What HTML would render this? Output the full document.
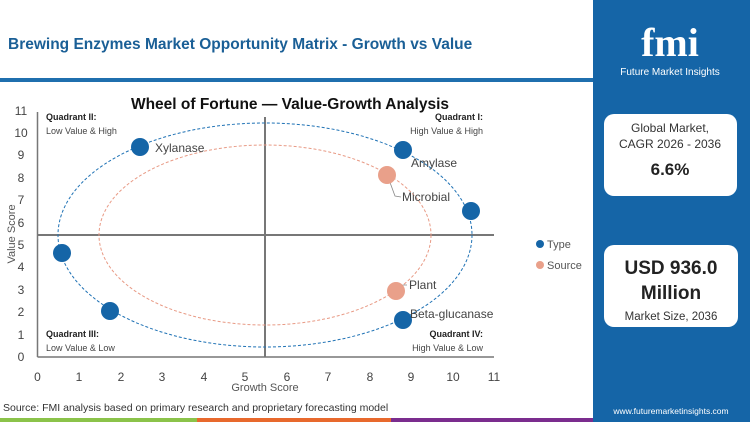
<!DOCTYPE html>
<html><head><meta charset="utf-8"><style>
body{margin:0;width:750px;height:422px;overflow:hidden;background:#fff;font-family:"Liberation Sans",sans-serif}
</style></head><body>
<svg width="750" height="422" viewBox="0 0 750 422" xmlns="http://www.w3.org/2000/svg" font-family="Liberation Sans, sans-serif">
<rect width="750" height="422" fill="#fff"/>
<text x="8" y="49" font-size="15.5" font-weight="bold" fill="#1a5f96">Brewing Enzymes Market Opportunity Matrix - Growth vs Value</text>
<rect x="0" y="78" width="593" height="4" fill="#1f6fae"/>
<rect x="593" y="0" width="157" height="422" fill="#1565a7"/>
<text x="670" y="56" font-size="40" font-weight="bold" fill="#fff" text-anchor="middle" font-family="Liberation Serif, serif">fmi</text>
<text x="670" y="75" font-size="10" fill="#fff" text-anchor="middle">Future Market Insights</text>
<rect x="604" y="114" width="133" height="82" rx="10" fill="#fff"/>
<text x="670" y="132" font-size="12" fill="#333" text-anchor="middle">Global Market,</text>
<text x="670" y="148" font-size="12" fill="#333" text-anchor="middle">CAGR 2026 - 2036</text>
<text x="670" y="175" font-size="17" font-weight="bold" fill="#222" text-anchor="middle">6.6%</text>
<rect x="604" y="245" width="134" height="82" rx="10" fill="#fff"/>
<text x="671" y="274" font-size="19" font-weight="bold" fill="#222" text-anchor="middle">USD 936.0</text>
<text x="671" y="299" font-size="19" font-weight="bold" fill="#222" text-anchor="middle">Million</text>
<text x="671" y="320" font-size="11.5" fill="#333" text-anchor="middle">Market Size, 2036</text>
<text x="671" y="414" font-size="8.5" fill="#fff" text-anchor="middle">www.futuremarketinsights.com</text>
<rect x="0" y="418" width="197" height="4" fill="#8bc34a"/>
<rect x="197" y="418" width="194" height="4" fill="#e8692d"/>
<rect x="391" y="418" width="202" height="4" fill="#7b2d8e"/>
<text x="3" y="411" font-size="10.5" fill="#333">Source: FMI analysis based on primary research and proprietary forecasting model</text>
<text x="290" y="109" font-size="15.5" font-weight="bold" fill="#111" text-anchor="middle">Wheel of Fortune — Value-Growth  Analysis</text>
<line x1="37.5" y1="112" x2="37.5" y2="357" stroke="#777" stroke-width="1.5"/>
<line x1="37.5" y1="357" x2="494" y2="357" stroke="#777" stroke-width="1.5"/>
<line x1="265" y1="117" x2="265" y2="357" stroke="#777" stroke-width="2"/>
<line x1="37.5" y1="235" x2="494" y2="235" stroke="#777" stroke-width="2"/>
<g font-size="12" fill="#444" text-anchor="middle">
<text x="37.5" y="381">0</text><text x="79" y="381">1</text><text x="121" y="381">2</text><text x="162" y="381">3</text><text x="204" y="381">4</text><text x="245" y="381">5</text><text x="287" y="381">6</text><text x="328" y="381">7</text><text x="370" y="381">8</text><text x="411" y="381">9</text><text x="453" y="381">10</text><text x="494" y="381">11</text>
</g>
<g font-size="12" fill="#444" text-anchor="middle">
<text x="21" y="361">0</text><text x="21" y="339">1</text><text x="21" y="316">2</text><text x="21" y="294">3</text><text x="21" y="271">4</text><text x="21" y="249">5</text><text x="21" y="227">6</text><text x="21" y="204">7</text><text x="21" y="182">8</text><text x="21" y="159">9</text><text x="21" y="137">10</text><text x="21" y="115">11</text>
</g>
<text x="265" y="391" font-size="11" fill="#555" text-anchor="middle">Growth Score</text>
<text transform="translate(15,234) rotate(-90)" font-size="11" fill="#555" text-anchor="middle">Value Score</text>
<ellipse cx="265" cy="235" rx="207" ry="112" fill="none" stroke="#1f72b5" stroke-width="1" stroke-dasharray="3,2"/>
<ellipse cx="265" cy="235" rx="166" ry="90" fill="none" stroke="#e89a85" stroke-width="1" stroke-dasharray="3,2"/>
<g font-size="9" fill="#222"><text x="46" y="120" font-weight="bold">Quadrant II:</text><text x="46" y="134" fill="#444">Low Value &amp; High</text>
<text x="46" y="337" font-weight="bold">Quadrant III:</text><text x="46" y="351" fill="#444">Low Value &amp; Low</text>
<text x="483" y="120" font-weight="bold" text-anchor="end">Quadrant I:</text><text x="483" y="134" fill="#444" text-anchor="end">High Value &amp; High</text>
<text x="483" y="337" font-weight="bold" text-anchor="end">Quadrant IV:</text><text x="483" y="351" fill="#444" text-anchor="end">High Value &amp; Low</text></g>
<polyline points="388,177 395,196 401,197" fill="none" stroke="#888" stroke-width="0.8"/>
<polyline points="397,291 403,285 407,285" fill="none" stroke="#888" stroke-width="0.8"/>
<g fill="#1565a7"><circle cx="140" cy="147" r="9"/><circle cx="403" cy="150" r="9"/><circle cx="471" cy="211" r="9"/><circle cx="62" cy="253" r="9"/><circle cx="110" cy="311" r="9"/><circle cx="403" cy="320" r="9"/></g>
<g fill="#e9a08a"><circle cx="387" cy="175" r="9"/><circle cx="396" cy="291" r="9"/></g>
<g font-size="12" fill="#444"><text x="155" y="152">Xylanase</text><text x="411" y="167">Amylase</text><text x="402" y="201">Microbial</text><text x="409" y="289">Plant</text><text x="410" y="318">Beta-glucanase</text></g>
<circle cx="540" cy="244" r="4" fill="#1565a7"/><text x="547" y="248" font-size="11" fill="#555">Type</text>
<circle cx="540" cy="265" r="4" fill="#e9a08a"/><text x="547" y="269" font-size="11" fill="#555">Source</text>
</svg>
</body></html>
